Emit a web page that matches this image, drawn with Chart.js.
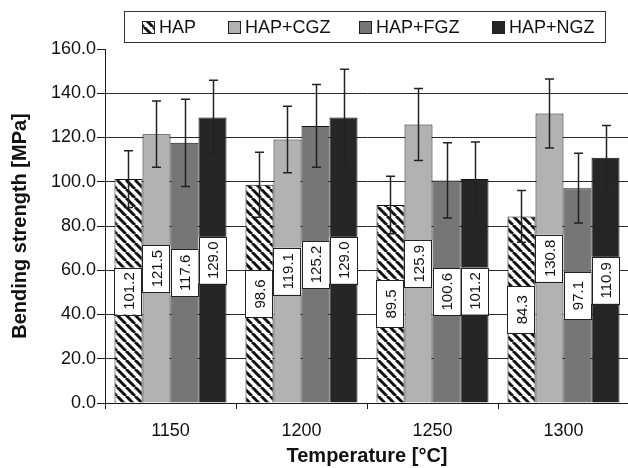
<!DOCTYPE html>
<html>
<head>
<meta charset="utf-8">
<script src="https://cdn.jsdelivr.net/npm/chart.js@4/dist/chart.umd.min.js"></script>
<style>
  html, body { margin: 0; padding: 0; background: #fff; overflow: hidden; }
  #wrap { width: 640px; height: 468px; position: relative; }
</style>
</head>
<body>
<div id="wrap"><canvas id="chart"></canvas></div>
<script>
// Sintering temperature groups
const temperatures = ['1150', '1200', '1250', '1300'];

// Mean bending strength [MPa] per material
const hap    = [101.2, 98.6, 89.5, 84.3];
const hapCgz = [121.5, 119.1, 125.9, 130.8];
const hapFgz = [117.6, 125.2, 100.6, 97.1];
const hapNgz = [129.0, 129.0, 101.2, 110.9];

// Standard deviations [MPa]
const hapErr    = [12.8, 14.7, 13.0, 11.7];
const hapCgzErr = [15.0, 15.0, 16.3, 15.6];
const hapFgzErr = [19.7, 18.7, 17.0, 15.8];
const hapNgzErr = [16.9, 21.9, 16.8, 14.5];

const seriesNames = ['HAP', 'HAP+CGZ', 'HAP+FGZ', 'HAP+NGZ'];

const FONT = "'Liberation Sans', Arial, sans-serif";
const INK = '#1a1a1a';

// diagonal hatch for the plain HAP bars
function makeHatch() {
  const s = 9;
  const c = document.createElement('canvas');
  c.width = s; c.height = s;
  const g = c.getContext('2d');
  g.fillStyle = '#fff';
  g.fillRect(0, 0, s, s);
  g.strokeStyle = '#111';
  g.lineWidth = 3;
  for (let k = -1; k <= 1; k++) {
    g.beginPath();
    g.moveTo(k * s, 0);
    g.lineTo(k * s + s, s);
    g.stroke();
  }
  return document.getElementById('chart').getContext('2d').createPattern(c, 'repeat');
}
const hatch = makeHatch();

const fills = [hatch, '#b2b2b2', '#767676', '#262626'];
const values = [hap, hapCgz, hapFgz, hapNgz];
const errors = [hapErr, hapCgzErr, hapFgzErr, hapNgzErr];

// value boxes placed at half the bar height, text rotated
const valueBoxes = {
  id: 'valueBoxes',
  afterDatasetsDraw(chart) {
    const ctx = chart.ctx;
    const y = chart.scales.y;
    ctx.save();
    chart.data.datasets.forEach((ds, di) => {
      const meta = chart.getDatasetMeta(di);
      meta.data.forEach((bar, i) => {
        const v = ds.data[i];
        const yc = y.getPixelForValue(v / 2);
        const w = bar.width, h = 47;
        const x0 = bar.x - w / 2;
        ctx.fillStyle = '#fff';
        ctx.fillRect(x0, yc - h / 2, w, h);
        ctx.strokeStyle = '#222';
        ctx.lineWidth = 1;
        ctx.strokeRect(Math.round(x0) + 0.5, Math.round(yc - h / 2) + 0.5, Math.round(w) - 1, h);
        ctx.save();
        ctx.translate(bar.x, yc);
        ctx.rotate(-Math.PI / 2);
        ctx.fillStyle = '#111';
        ctx.font = '15px ' + FONT;
        ctx.textAlign = 'center';
        ctx.textBaseline = 'middle';
        ctx.fillText(v.toFixed(1), 0, 1);
        ctx.restore();
      });
    });
    ctx.restore();
  }
};

// standard deviation whiskers
const errorBars = {
  id: 'errorBars',
  afterDatasetsDraw(chart) {
    const ctx = chart.ctx;
    const y = chart.scales.y;
    ctx.save();
    ctx.strokeStyle = '#222';
    ctx.lineWidth = 1.5;
    chart.data.datasets.forEach((ds, di) => {
      const meta = chart.getDatasetMeta(di);
      meta.data.forEach((bar, i) => {
        const v = ds.data[i], e = errors[di][i];
        const yt = y.getPixelForValue(v + e);
        const yb = y.getPixelForValue(v - e);
        const x = Math.round(bar.x) + 0.5;
        ctx.beginPath();
        ctx.moveTo(x, yt); ctx.lineTo(x, yb);
        ctx.moveTo(x - 4.5, yt); ctx.lineTo(x + 4.5, yt);
        ctx.moveTo(x - 4.5, yb); ctx.lineTo(x + 4.5, yb);
        ctx.stroke();
      });
    });
    ctx.restore();
  }
};

// framed legend across the top
const framedLegend = {
  id: 'framedLegend',
  afterDraw(chart) {
    const ctx = chart.ctx;
    ctx.save();
    ctx.strokeStyle = '#333';
    ctx.lineWidth = 1;
    ctx.strokeRect(124.5, 11.5, 481, 31);
    const xs = [142, 228, 359, 492];
    chart.data.datasets.forEach((ds, di) => {
      const x = xs[di];
      ctx.fillStyle = ds.backgroundColor;
      ctx.fillRect(x, 21, 13, 13);
      ctx.strokeStyle = '#222';
      ctx.strokeRect(x + 0.5, 21.5, 12, 12);
      ctx.fillStyle = '#111';
      ctx.font = '18px ' + FONT;
      ctx.textAlign = 'left';
      ctx.textBaseline = 'middle';
      ctx.fillText(ds.label, x + 17, 28);
    });
    ctx.restore();
  }
};

new Chart(document.getElementById('chart'), {
  type: 'bar',
  data: {
    labels: temperatures,
    datasets: seriesNames.map((name, di) => ({
      label: name,
      data: values[di],
      backgroundColor: fills[di],
      borderColor: '#111',
      borderWidth: 1,
      categoryPercentage: 0.855,
      barPercentage: 1.0
    }))
  },
  options: {
    responsive: true,
    maintainAspectRatio: false,
    animation: false,
    layout: { padding: { left: 0, right: 11, top: 49, bottom: 0 } },
    plugins: {
      legend: { display: false },
      tooltip: { enabled: false }
    },
    scales: {
      x: {
        offset: true,
        afterFit(scale) { scale.height = 65; },
        grid: {
          offset: true,
          drawOnChartArea: false,
          tickLength: 6,
          tickColor: INK,
          tickWidth: 1
        },
        border: { display: true, color: INK, width: 1 },
        ticks: {
          padding: 11,
          color: '#111',
          font: { family: FONT, size: 18 }
        },
        title: {
          display: true,
          text: 'Temperature [°C]',
          color: '#111',
          font: { family: FONT, size: 20, weight: 'bold' },
          padding: { top: 0, bottom: 0 }
        }
      },
      y: {
        min: 0,
        max: 160,
        afterFit(scale) { scale.width = 105; },
        ticks: {
          stepSize: 20,
          padding: 1,
          color: '#111',
          font: { family: FONT, size: 18 },
          callback: (v) => Number(v).toFixed(1)
        },
        grid: {
          color: (c) => (c.tick && c.tick.value === 160 ? 'rgba(0,0,0,0)' : '#2a2a2a'),
          lineWidth: 1,
          tickLength: 8,
          tickColor: INK
        },
        border: { display: true, color: INK, width: 1 },
        title: {
          display: true,
          text: 'Bending strength [MPa]',
          color: '#111',
          font: { family: FONT, size: 20, weight: 'bold' },
          padding: { top: 8, bottom: 4 }
        }
      }
    }
  },
  plugins: [valueBoxes, errorBars, framedLegend]
});
</script>
</body>
</html>
